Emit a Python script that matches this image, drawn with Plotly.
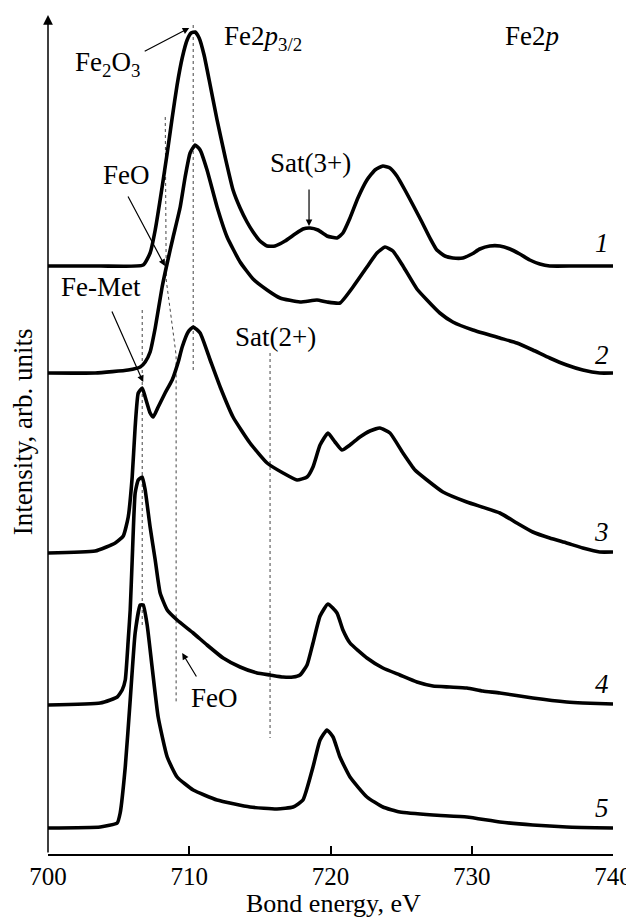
import plotly.graph_objects as go

# ---------------- data ----------------
x1 = [700.00, 703.70, 706.74, 707.23, 707.59, 708.08, 708.44, 708.79, 709.14, 709.50, 709.85, 710.13, 710.42,
      710.70, 711.05, 711.41, 711.97, 712.54, 713.10, 713.60, 714.09, 714.52, 715.01, 715.51, 716.07, 716.78,
      717.49, 718.05, 718.55, 719.11, 719.75, 720.46, 720.88, 721.38, 721.94, 722.58, 723.15, 723.71, 724.21,
      724.70, 725.27, 725.84, 726.47, 727.04, 727.53, 728.10, 728.66, 729.37, 730.01, 730.57, 731.28, 731.99,
      732.70, 733.40, 734.11, 734.82, 735.52, 737.29, 740.00]
y1 = [588, 588, 589, 601, 624, 667, 701, 736, 769, 796, 814, 821, 822,
      816, 799, 774, 734, 697, 664, 646, 632, 622, 613, 608, 608, 613,
      620, 625, 626, 624, 618, 616, 621, 636, 656, 674, 684, 688, 686,
      678, 664, 649, 632, 616, 604, 598, 596, 596, 600, 605, 608, 608,
      605, 600, 594, 590, 588, 588, 588]

x2 = [700.00, 703.34, 705.68, 706.53, 706.88, 707.23, 707.59, 708.08, 708.44, 708.86, 709.36, 709.71, 710.06,
      710.42, 710.77, 711.26, 711.97, 712.68, 713.60, 714.52, 715.51, 716.43, 717.84, 719.04, 719.75, 720.67,
      721.59, 722.58, 723.29, 723.86, 724.42, 725.13, 726.12, 726.83, 727.74, 728.66, 730.08, 731.99,
      733.19, 734.32, 735.52, 736.72, 737.86, 739.06, 740.00]
y2 = [481, 481, 484, 487, 492, 502, 526, 567, 591, 617, 647, 677, 701,
      709, 704, 684, 647, 617, 592, 575, 564, 556, 552, 554, 552, 551,
      567, 587, 601, 607, 603, 588, 565, 554, 541, 532, 524, 516,
      511, 504, 496, 489, 484, 481, 481]

x3 = [700.00, 703.34, 704.76, 705.33, 705.68, 705.96, 706.17, 706.39, 706.67, 706.88, 707.23, 707.45, 707.80,
      708.29, 708.79, 709.22, 709.50, 709.92, 710.28, 710.77, 711.48, 712.19, 713.10, 714.30, 715.51, 716.64,
      717.63, 718.34, 718.76, 719.26, 719.82, 720.32, 720.81, 721.38, 722.08, 722.79, 723.50, 724.21, 725.13,
      725.98, 726.83, 727.96, 729.65, 731.99, 733.19, 734.32, 735.52, 736.72, 737.86, 739.06, 740.00]
y3 = [301, 303, 311, 318, 337, 377, 427, 461, 466, 457, 441, 437, 447,
      461, 474, 492, 507, 522, 527, 521, 494, 467, 437, 411, 391, 381,
      374, 377, 387, 409, 421, 412, 404, 409, 417, 423, 426, 421, 401,
      384, 374, 362, 352, 341, 331, 322, 316, 311, 306, 302, 302]

x4 = [700.00, 703.70, 704.41, 704.90, 705.25, 705.47, 705.68, 705.82, 705.96, 706.17, 706.39, 706.67, 706.88,
      707.23, 707.59, 707.94, 708.44, 709.14, 710.28, 711.26, 712.40, 713.60, 714.80, 715.72, 716.64, 717.35,
      717.84, 718.34, 718.76, 719.26, 719.82, 720.46, 720.88, 721.38, 722.58, 723.71, 724.91, 726.12, 727.25,
      728.45, 729.65, 730.78, 731.99, 734.32, 736.72, 737.86, 740.00]
y4 = [149, 151, 154, 157, 164, 174, 214, 244, 294, 361, 374, 377, 364,
      327, 294, 261, 244, 234, 221, 209, 196, 187, 181, 179, 177, 177,
      179, 189, 211, 238, 250, 241, 224, 211, 196, 186, 179, 172, 168,
      167, 166, 163, 161, 156, 152, 151, 150]

x5 = [700.00, 703.70, 704.90, 705.11, 705.47, 705.82, 706.17, 706.53, 706.74, 707.02, 707.37, 707.80, 708.44,
      709.14, 710.28, 711.97, 714.30, 716.21, 717.35, 718.05, 718.76, 719.26, 719.75, 720.18, 720.67, 721.38,
      722.58, 723.71, 724.91, 727.25, 729.65, 731.99, 734.32, 736.72, 740.00]
y5 = [26, 27, 31, 41, 87, 154, 221, 249, 249, 229, 187, 137, 97,
      77, 64, 54, 47, 45, 47, 54, 87, 114, 124, 117, 97, 77,
      57, 47, 42, 39, 37, 32, 29, 27, 26]

series_x = [x1, x2, x3, x4, x5]
series_y = [y1, y2, y3, y4, y5]
curve_labels = ["1", "2", "3", "4", "5"]
curve_label_y = [611, 499, 322, 170, 46]

x_ticks = [700, 710, 720, 730, 740]
x_range = [700, 740]
y_range = [0, 839]

# reference (dashed) lines: x positions and vertical extents
dash_lines = [
    ([710.28, 710.28], [829, 482]),                              # Fe2O3
    ([708.30, 708.37, 709.07, 709.07], [737, 574, 499, 151]),    # FeO
    ([706.67, 706.67], [544, 227]),                              # Fe-Met
    ([715.72, 715.72], [501, 116]),                              # Sat(2+)
]

# label arrows: (tail x, tail y, tip x, tip y)
arrows = [
    (706.74, 802, 710.00, 826),   # Fe2O3
    (705.61, 659, 708.28, 588),   # FeO (top)
    (718.48, 666, 718.48, 628),   # Sat(3+)
    (704.48, 544, 706.74, 472),   # Fe-Met
    (710.57, 176, 709.50, 201),   # FeO (bottom)
]

# text labels: (text, x, y, xanchor)
labels = [
    ("Fe<sub>2</sub>O<sub>3</sub>", 701.78, 790, "left"),
    ("Fe2<i>p</i><sub>3/2</sub>", 712.33, 816, "left"),
    ("Fe2<i>p</i>", 732.19, 818, "left"),
    ("FeO", 705.53, 679, "center"),
    ("Sat(3+)", 718.55, 691, "center"),
    ("Fe-Met", 703.77, 567, "center"),
    ("Sat(2+)", 716.08, 517, "center"),
    ("FeO", 711.76, 156, "center"),
]

FONT = "Liberation Serif"

fig = go.Figure()

for xs, ys in dash_lines:
    fig.add_trace(go.Scatter(x=xs, y=ys, mode="lines", showlegend=False, hoverinfo="skip",
                             line=dict(color="#444444", width=1, dash="3px,3px")))

for xs, ys in zip(series_x, series_y):
    fig.add_trace(go.Scatter(x=xs, y=ys, mode="lines", showlegend=False,
                             line=dict(color="black", width=3.6, shape="spline", smoothing=0.45)))

annotations = []
# y axis with arrow
annotations.append(dict(x=700, y=y_range[1], ax=700, ay=0, xref="x", yref="y", axref="x", ayref="y",
                        text="", showarrow=True, arrowhead=2, arrowsize=1.3, arrowwidth=1.5,
                        arrowcolor="black"))
for tx, ty, hx, hy in arrows:
    annotations.append(dict(x=hx, y=hy, ax=tx, ay=ty, xref="x", yref="y", axref="x", ayref="y",
                            text="", showarrow=True, arrowhead=2, arrowsize=1.1, arrowwidth=1.2,
                            arrowcolor="black"))
for t, lx, ly, anc in labels:
    annotations.append(dict(x=lx, y=ly, xref="x", yref="y", text=t, showarrow=False,
                            xanchor=anc, yanchor="middle", font=dict(family=FONT, size=27, color="black")))
for t, ly in zip(curve_labels, curve_label_y):
    annotations.append(dict(x=739.2, y=ly, xref="x", yref="y", text="<i>" + t + "</i>", showarrow=False,
                            xanchor="center", yanchor="middle", font=dict(family=FONT, size=27, color="black")))
# axis titles
annotations.append(dict(x=0.506, y=-0.059, xref="paper", yref="paper", text="Bond energy, eV",
                        showarrow=False, xanchor="center", yanchor="middle",
                        font=dict(family=FONT, size=26, color="black")))
annotations.append(dict(x=-0.0437, y=0.503, xref="paper", yref="paper", text="Intensity, arb. units",
                        showarrow=False, xanchor="center", yanchor="middle", textangle=-90,
                        font=dict(family=FONT, size=27, color="black")))

# the page body adds an 8 px offset, so the figure is 8 px smaller and margins shifted
fig.update_layout(
    template="none",
    width=626, height=910,
    margin=dict(l=40, r=21, t=7, b=64, autoexpand=False),
    font=dict(family=FONT, color="black"),
    paper_bgcolor="white", plot_bgcolor="white",
    showlegend=False,
    annotations=annotations,
    xaxis=dict(range=x_range, tickvals=x_ticks, ticktext=[str(v) for v in x_ticks],
               ticks="inside", ticklen=8, tickwidth=1.5, tickcolor="black", automargin=False,
               ticklabelstandoff=-1,
               showline=True, linewidth=1.5, linecolor="black", showgrid=False, zeroline=False,
               tickfont=dict(family=FONT, size=25, color="black"), fixedrange=True),
    yaxis=dict(range=y_range, visible=False, showgrid=False, zeroline=False, fixedrange=True,
               automargin=False),
)

fig.write_html("out.html")
